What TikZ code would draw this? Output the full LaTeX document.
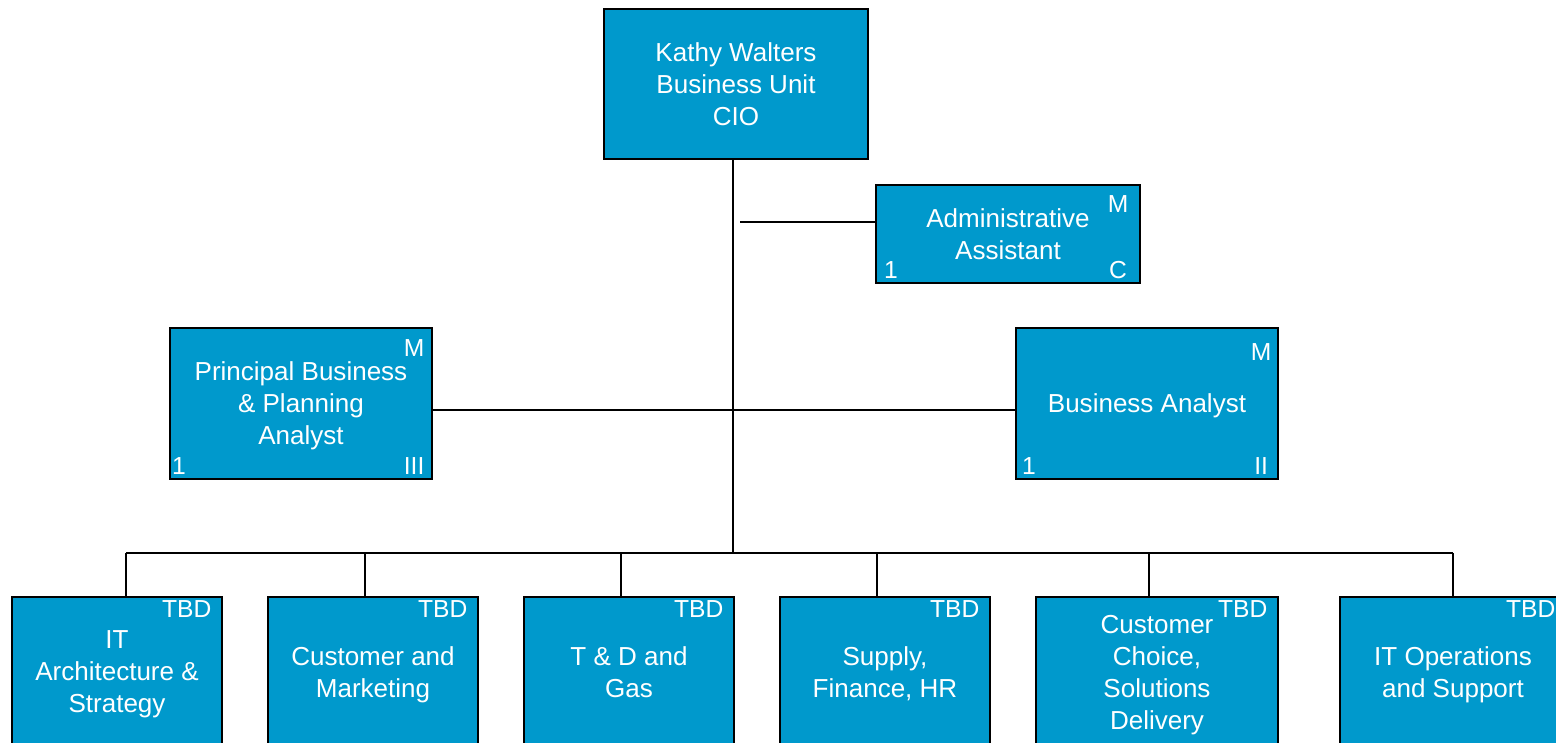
\documentclass[tikz,border=0pt]{standalone}
\usepackage{fontspec}
\setmainfont{Liberation Sans}
\usetikzlibrary{positioning}
\definecolor{unitblue}{RGB}{0,153,204}

\begin{document}
\begin{tikzpicture}[x=0.01cm, y=-0.01cm,
  every node/.style={font=\fontsize{7.4}{9.1}\selectfont, text=white},
  unit/.style={draw=black, line width=0.6pt, fill=unitblue, align=center,
    minimum width=2.64cm, minimum height=1.5cm, inner sep=0pt, text depth=0pt},
  team/.style={unit, minimum width=2.1cm},
  tag/.style={font=\fontsize{7}{8}\selectfont, inner sep=0pt},
  link/.style={line width=0.6pt}]
  \clip (0,0) rectangle (1556,743);

  % top and staff
  \node[unit] (cio) at (736,84) {Kathy Walters\\Business Unit\\CIO};
  \node[unit, minimum height=0.98cm] (adm) at (1008,234) {Administrative\\Assistant};
  \node[unit, minimum width=2.62cm, minimum height=1.51cm] (pba) at (301,403.5) {Principal Business\\\& Planning\\Analyst};
  \node[unit, minimum width=2.62cm, minimum height=1.51cm] (ba) at (1147,403.5) {Business Analyst};

  \node[tag] (adm-m) at ([shift={(-23,20)}]adm.north east) {M};
  \node[tag] (adm-c) at ([shift={(-23,-14)}]adm.south east) {C};
  \node[tag] (adm-n) at ([shift={(16,-14)}]adm.south west) {1};
  \node[tag] (pba-m) at ([shift={(-19,21)}]pba.north east) {M};
  \node[tag] (pba-g) at ([shift={(-19,-14)}]pba.south east) {III};
  \node[tag] (pba-n) at ([shift={(10,-14)}]pba.south west) {1};
  \node[tag] (ba-m) at ([shift={(-18,25)}]ba.north east) {M};
  \node[tag] (ba-g) at ([shift={(-18,-14)}]ba.south east) {II};
  \node[tag] (ba-n) at ([shift={(14,-14)}]ba.south west) {1};

  % teams
  \node[team] (d1) at (117,672) {IT\\Architecture \&\\Strategy};
  \node[team] (d2) at (373,672) {Customer and\\Marketing};
  \node[team] (d3) at (629,672) {T \& D and\\Gas};
  \node[team] (d4) at (885,672) {Supply,\\Finance, HR};
  \node[team, minimum width=2.42cm] (d5) at (1157,672) {Customer\\Choice,\\Solutions\\Delivery};
  \node[team, minimum width=2.26cm] (d6) at (1453,672) {IT Operations\\and Support};

  \foreach \i in {1,...,6}
    \node[tag, anchor=east] (t\i) at ([shift={(-11,13.5)}]d\i.north east) {TBD};

  % lines
  \coordinate (hub) at (733,553);
  \coordinate (aj) at (740,222);
  \coordinate (j1) at (126,553);
  \coordinate (j2) at (365,553);
  \coordinate (j3) at (621,553);
  \coordinate (j4) at (877,553);
  \coordinate (j5) at (1149,553);
  \coordinate (j6) at (1453,553);

  \draw[link] (cio.south -| hub) -- (hub);
  \draw[link] (aj) -- (aj -| adm.west);
  \draw[link] ([yshift=-0.065cm]pba.east) -- ([yshift=-0.065cm]ba.west);
  \draw[link] (j1) -- (j6);
  \foreach \i in {1,...,6}
    \draw[link] (j\i) -- (j\i |- d\i.north);
\end{tikzpicture}
\end{document}
